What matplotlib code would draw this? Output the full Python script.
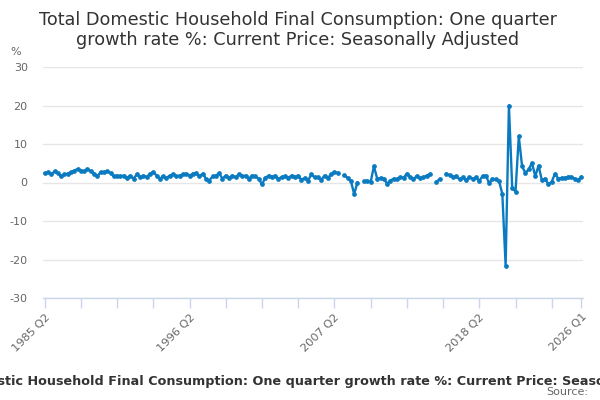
import numpy as np
import matplotlib
matplotlib.use("Agg")
import matplotlib.pyplot as plt

nan = float("nan")
title = "Total Domestic Household Final Consumption: One quarter growth rate %: Current Price: Seasonally Adjusted"

# quarterly growth rate %, 1985 Q2 .. 2026 Q1 (164 quarters)
values_1985_1991 = [2.4, 2.7, 2.1, 2.9, 2.4, 1.6, 2.1, 2.3, 2.7, 3.1, 3.5, 3.1, 2.9,
                    3.5, 2.9, 2.3, 1.6, 2.7, 2.7, 2.9, 2.5, 1.6, 1.8, 1.6, 1.8, 1.2]
values_1991_1998 = [1.8, 1.0, 2.1, 1.4, 1.8, 1.4, 2.3, 2.7, 1.8, 1.0, 1.6, 1.2, 1.8, 2.1,
                    1.6, 1.8, 2.1, 2.3, 1.8, 2.3, 2.4, 1.6, 2.3, 1.0, 0.5, 1.6, 1.8, 2.4, 1.0]
values_1999_2005 = [1.8, 1.2, 1.8, 1.4, 2.1, 1.6, 1.8, 1.0, 1.8, 1.6, 1.0, -0.5, 1.2, 1.8,
                    1.4, 1.8, 1.0, 1.4, 1.6, 1.2, 1.8, 1.4, 1.8, 0.7, 1.2, 0.5, 2.1]
values_2006_2013 = [1.3, 1.4, 0.7, 1.8, 1.2, 2.1, 2.7, 2.5, nan, 1.9, 1.2, 0.4, -3.0, 0.0,
                    nan, 0.3, 0.5, 0.1, 4.2, 1.0, 1.2, 1.0, -0.3, 0.5, 1.0, 0.8, 1.4, 1.2, 2.3]
values_2013_2016 = [1.5, 0.8, 1.7, 1.1, 1.3, 1.8, 2.2, nan, 0.2, 0.9, nan, 2.3]
values_2016_2026 = [1.9, 1.5, 1.6, 0.8, 1.3, 0.6, 1.4, 1.0, 1.3, 0.4, 1.7, 1.8, -0.2, 1.0,
                    0.8, 0.4, -3.0, -21.6, 20.0, -1.3, -2.4, 12.0, 4.2, 2.5, 3.4, 5.1, 1.6,
                    4.4, 0.6, 1.0, -0.5, 0.2, 2.3, 1.0, 1.2, 1.2, 1.5, 1.5, 1.0, 0.6, 1.5]
values = (values_1985_1991 + values_1991_1998 + values_1999_2005 +
          values_2006_2013 + values_2013_2016 + values_2016_2026)

tick_positions = [0, 11, 22, 33, 44, 55, 66, 77, 88, 99, 110, 121, 132, 143, 154, 163]
label_positions = [0, 44, 88, 132, 163]
tick_labels = ["1985 Q2", "1996 Q2", "2007 Q2", "2018 Q2", "2026 Q1"]
y_ticks = [-30, -20, -10, 0, 10, 20, 30]

plt.rcParams['font.family'] = ['DejaVu Sans']
fig = plt.figure(figsize=(6, 4), dpi=100)
ax = fig.add_axes([43/600, 1-298/400, 540/600, 231/400])

x = np.arange(len(values))
ax.plot(x, values, color="#0b7bc1", lw=1.7, marker="o", ms=2.4, zorder=3)

ax.set_xlim(-0.5, len(values) - 0.5)
ax.set_ylim(-30, 30)
ax.set_yticks(y_ticks)
ax.set_yticklabels([str(v) for v in y_ticks], color="#666666", fontsize=8)
ax.tick_params(axis="y", length=0, pad=11)
ax.grid(axis="y", color="#e6e6e6", lw=1)
ax.set_axisbelow(True)

ax.set_xticks(tick_positions)
lab = [tick_labels[label_positions.index(p)] if p in label_positions else "" for p in tick_positions]
ax.set_xticklabels(lab, rotation=45, ha="right", rotation_mode="anchor",
                   color="#666666", fontsize=8.2)
ax.tick_params(axis="x", length=7, color="#ccd6eb", width=1, pad=3)

for s in ["top", "right", "left"]:
    ax.spines[s].set_visible(False)
ax.spines["bottom"].set_color("#ccd6eb")
ax.spines["bottom"].set_linewidth(1)

fig.text(298/600, 1-30/400, "Total Domestic Household Final Consumption: One quarter\ngrowth rate %: Current Price: Seasonally Adjusted",
         ha="center", va="center", fontsize=12.7, color="#333333", linespacing=1.15)
fig.text(10/600, 1-52/400, "%", ha="left", va="center", fontsize=8, color="#666666")
fig.text(313/600, 1-381/400, title, ha="center", va="center", fontsize=9.2,
         fontweight="bold", color="#333333")
fig.text(588/600, 1-392/400, "Source:", ha="right", va="center", fontsize=8, color="#666666")

fig.savefig("out.png", dpi=100)
